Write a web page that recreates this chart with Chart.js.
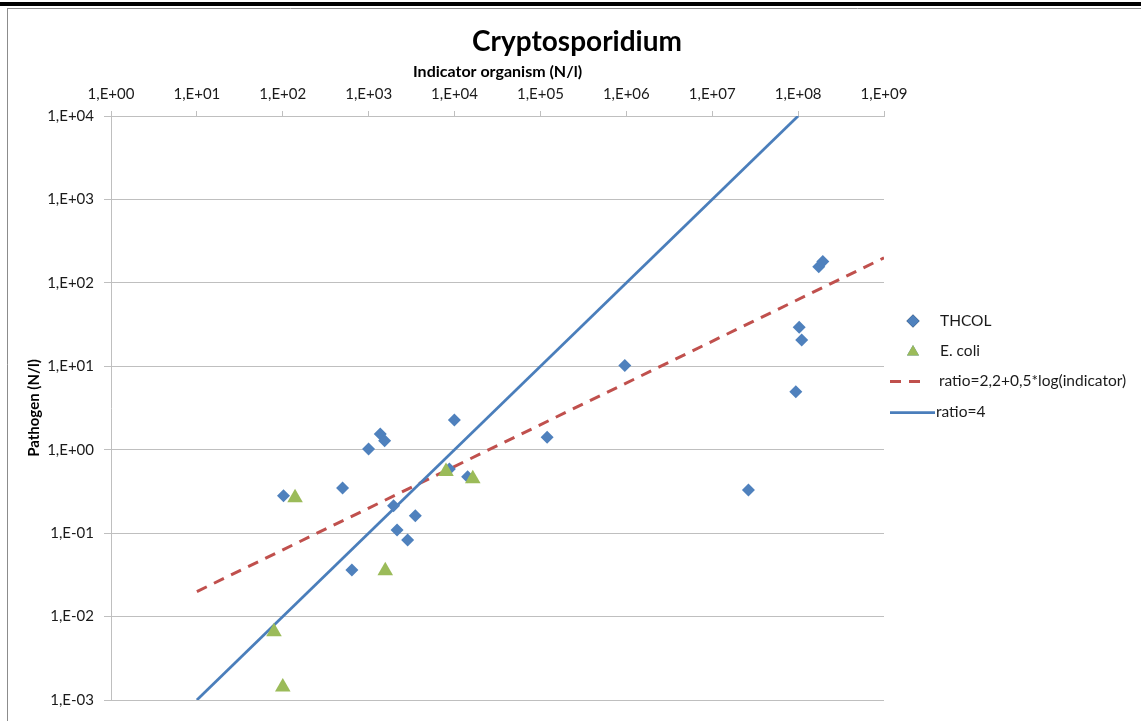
<!DOCTYPE html>
<html>
<head>
<meta charset="utf-8">
<title>Cryptosporidium</title>
<script src="https://cdn.jsdelivr.net/npm/chart.js@4/dist/chart.umd.min.js"></script>
<style>
  html, body { margin: 0; padding: 0; background: #ffffff; }
  #wrap { width: 1141px; height: 721px; overflow: hidden; }
  canvas { display: block; }
</style>
</head>
<body>
<div id="wrap"><canvas id="chart" width="1141" height="721"></canvas></div>
<script>
// Thermotolerant coliforms (indicator N/l) vs Cryptosporidium (pathogen N/l)
const thcolIndicator = [102, 497, 998, 1365, 1534, 1950, 2140, 2840, 3490, 638, 9950, 8700, 14200, 119700, 9.6e5, 2.64e7, 9.4e7, 1.03e8, 1.10e8, 1.74e8, 1.94e8];
const thcolPathogen  = [0.28, 0.347, 1.02, 1.54, 1.28, 0.213, 0.109, 0.0827, 0.162, 0.0361, 2.27, 0.587, 0.474, 1.41, 10.2, 0.329, 4.96, 29.3, 20.7, 156, 180];

// E. coli (indicator N/l) vs Cryptosporidium (pathogen N/l)
const ecoliIndicator = [139, 79, 100, 1560, 7950, 16300];
const ecoliPathogen  = [0.265, 0.0066, 0.00143, 0.0354, 0.55, 0.45];

// Reference lines, given by their end points
const ratioLogIndicator = [10, 1e9];
const ratioLogPathogen  = [0.01995, 199.5];   // ratio = 2,2 + 0,5*log(indicator)
const ratio4Indicator   = [10, 1e8];
const ratio4Pathogen    = [0.001, 10000];     // ratio = 4

// Axis ticks (decades) and their labels
const xTickValues = [1e0, 1e1, 1e2, 1e3, 1e4, 1e5, 1e6, 1e7, 1e8, 1e9];
const xTickLabels = ['1,E+00', '1,E+01', '1,E+02', '1,E+03', '1,E+04', '1,E+05', '1,E+06', '1,E+07', '1,E+08', '1,E+09'];
const yTickValues = [1e-3, 1e-2, 1e-1, 1e0, 1e1, 1e2, 1e3, 1e4];
const yTickLabels = ['1,E-03', '1,E-02', '1,E-01', '1,E+00', '1,E+01', '1,E+02', '1,E+03', '1,E+04'];

const seriesNames = ['THCOL', 'E. coli', 'ratio=2,2+0,5*log(indicator)', 'ratio=4'];

const zip = (xs, ys) => xs.map((x, i) => ({ x: x, y: ys[i] }));

const FONT = 'Lato, "Open Sans", "Liberation Sans", sans-serif';
const BLUE = '#4F81BD';
const GREEN = '#9BBB59';
const RED = '#C0504D';
const LINE_BLUE = '#4A7EBB';
const GRID = '#bfbfbf';
const TEXT = '#1a1a1a';

// Frame around the chart object
const framePlugin = {
  id: 'frame',
  beforeDraw(chart) {
    const ctx = chart.ctx;
    ctx.save();
    ctx.fillStyle = '#ffffff';
    ctx.fillRect(0, 0, chart.width, chart.height);
    ctx.fillStyle = '#000000';
    ctx.fillRect(0, 2, chart.width, 4);
    ctx.strokeStyle = '#8c8c8c';
    ctx.lineWidth = 1;
    ctx.beginPath();
    ctx.moveTo(7, 8.5);
    ctx.lineTo(chart.width, 8.5);
    ctx.moveTo(7.5, 8.5);
    ctx.lineTo(7.5, chart.height);
    ctx.stroke();
    ctx.restore();
  }
};

// Chart title and legend
const decorPlugin = {
  id: 'decor',
  afterDraw(chart) {
    const ctx = chart.ctx;
    ctx.save();
    ctx.fillStyle = '#000000';
    ctx.font = 'bold 28px ' + FONT;
    ctx.textAlign = 'center';
    ctx.textBaseline = 'middle';
    ctx.fillText('Cryptosporidium', 577, 42);

    const ds = chart.data.datasets;
    const lx = 913, tx = 940;
    const rows = [321, 351, 381, 412];
    ctx.font = '15.5px ' + FONT;
    ctx.textAlign = 'left';

    // markers
    Chart.helpers.drawPoint(ctx, { pointStyle: ds[0].pointStyle, radius: ds[0].pointRadius, borderWidth: 0 }, lx, rows[0]);
    ctx.fillStyle = ds[0].backgroundColor;
    ctx.fill();
    Chart.helpers.drawPoint(ctx, { pointStyle: ds[1].pointStyle, radius: 7, borderWidth: 0 }, lx, rows[1] + 1);
    ctx.fillStyle = ds[1].backgroundColor;
    ctx.fill();

    // line samples
    ctx.lineWidth = ds[2].borderWidth;
    ctx.strokeStyle = ds[2].borderColor;
    ctx.setLineDash(ds[2].borderDash);
    ctx.beginPath();
    ctx.moveTo(890, rows[2] + 0.5);
    ctx.lineTo(926, rows[2] + 0.5);
    ctx.stroke();
    ctx.setLineDash([]);
    ctx.lineWidth = ds[3].borderWidth;
    ctx.strokeStyle = ds[3].borderColor;
    ctx.beginPath();
    ctx.moveTo(890, rows[3] + 0.5);
    ctx.lineTo(935, rows[3] + 0.5);
    ctx.stroke();

    ctx.fillStyle = TEXT;
    ctx.fillText(seriesNames[0], tx, rows[0]);
    ctx.fillText(seriesNames[1], tx, rows[1]);
    ctx.fillText(seriesNames[2], 939, rows[2]);
    ctx.fillText(seriesNames[3], 936, rows[3]);
    ctx.restore();
  }
};

new Chart(document.getElementById('chart'), {
  type: 'scatter',
  data: {
    datasets: [
      {
        label: seriesNames[0],
        data: zip(thcolIndicator, thcolPathogen),
        pointStyle: 'rectRot',
        pointRadius: 6.5,
        pointHoverRadius: 6.5,
        backgroundColor: BLUE,
        borderColor: BLUE,
        borderWidth: 0,
        order: 2
      },
      {
        label: seriesNames[1],
        data: zip(ecoliIndicator, ecoliPathogen),
        pointStyle: 'triangle',
        pointRadius: 9,
        pointHoverRadius: 9,
        backgroundColor: GREEN,
        borderColor: GREEN,
        borderWidth: 0,
        order: 1
      },
      {
        label: seriesNames[2],
        data: zip(ratioLogIndicator, ratioLogPathogen),
        showLine: true,
        pointRadius: 0,
        borderColor: RED,
        backgroundColor: RED,
        borderWidth: 3,
        borderDash: [11, 8],
        order: 4
      },
      {
        label: seriesNames[3],
        data: zip(ratio4Indicator, ratio4Pathogen),
        showLine: true,
        pointRadius: 0,
        borderColor: LINE_BLUE,
        backgroundColor: LINE_BLUE,
        borderWidth: 2.75,
        order: 3
      }
    ]
  },
  options: {
    responsive: false,
    animation: false,
    events: [],
    layout: { padding: { left: 8, top: 55, right: 257, bottom: 21 } },
    plugins: {
      legend: { display: false },
      title: { display: false },
      tooltip: { enabled: false }
    },
    scales: {
      x: {
        type: 'logarithmic',
        position: 'top',
        min: 1,
        max: 1e9,
        afterBuildTicks: s => { s.ticks = xTickValues.map(v => ({ value: v })); },
        afterFit: s => { s.height = 61; },
        ticks: {
          autoSkip: false,
          maxRotation: 0,
          padding: 8,
          color: TEXT,
          font: { family: FONT, size: 15 },
          callback: (v, i) => xTickLabels[i]
        },
        grid: { drawOnChartArea: false, drawTicks: true, tickLength: 5, color: GRID },
        border: { display: true, color: GRID, width: 1 },
        title: {
          display: true,
          text: 'Indicator organism (N/l)',
          color: '#000000',
          font: { family: FONT, size: 16, weight: 'bold' },
          padding: { top: 7, bottom: 0 }
        }
      },
      y: {
        type: 'logarithmic',
        position: 'left',
        min: 1e-3,
        max: 1e4,
        afterBuildTicks: s => { s.ticks = yTickValues.map(v => ({ value: v })); },
        afterFit: s => { s.width = 103; },
        ticks: {
          autoSkip: false,
          padding: 10,
          color: TEXT,
          font: { family: FONT, size: 15 },
          callback: (v, i) => yTickLabels[i]
        },
        grid: { drawOnChartArea: true, drawTicks: true, tickLength: 7, color: GRID },
        border: { display: true, color: GRID, width: 1 },
        title: {
          display: true,
          text: 'Pathogen (N/l)',
          color: '#000000',
          font: { family: FONT, size: 15, weight: 'bold' },
          padding: { top: 17, bottom: 0 }
        }
      }
    }
  },
  plugins: [framePlugin, decorPlugin]
});
</script>
</body>
</html>
